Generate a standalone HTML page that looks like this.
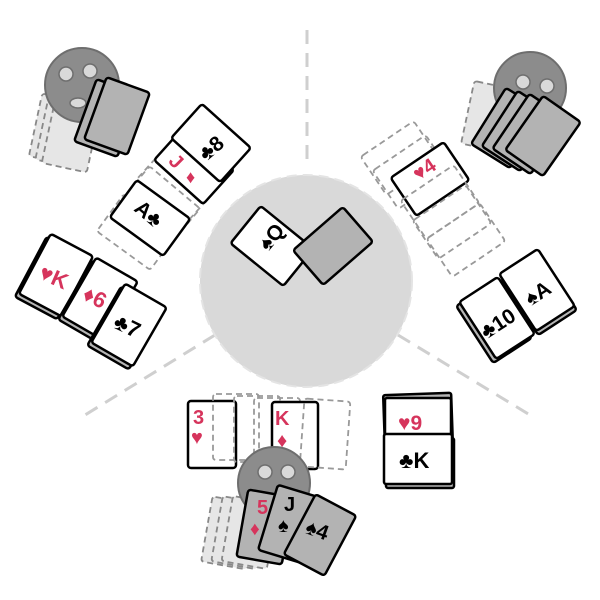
<!DOCTYPE html>
<html><head><meta charset="utf-8"><style>
html,body{margin:0;padding:0;background:#fff}
svg{display:block}
text{font-family:"Liberation Sans","DejaVu Sans",sans-serif;font-weight:bold}
.c{fill:#fff;stroke:#000;stroke-width:2.5}
.s{fill:#b5b5b5;stroke:#000;stroke-width:2.5}
.g{fill:#b3b3b3;stroke:#000;stroke-width:2.5}
.d{fill:none;stroke:#999;stroke-width:1.8;stroke-dasharray:6 4}
.db{fill:#e6e6e6;stroke:#888;stroke-width:1.8;stroke-dasharray:6 4}
.r{fill:#d6345c}
.k{fill:#000}
.face{fill:#8c8c8c;stroke:#6e6e6e;stroke-width:2}
.eye{fill:#d9d9d9;stroke:#6e6e6e;stroke-width:1.5}
</style></head><body>
<svg width="600" height="600" viewBox="0 0 600 600" xmlns="http://www.w3.org/2000/svg">
<g stroke="#cfcfcf" stroke-width="3" stroke-dasharray="14 9" fill="none">
<line x1="307" y1="30" x2="307" y2="165"/>
<line x1="215" y1="335" x2="85" y2="415"/>
<line x1="398" y1="335" x2="530" y2="415"/>
</g>
<circle cx="306" cy="281" r="106" fill="#d9d9d9" stroke="#e4e4e4" stroke-width="2" stroke-dasharray="10 6"/>

<g transform="translate(272,246) rotate(39)"><rect class="c" x="-34" y="-24" width="68" height="48" rx="3"/></g>
<text x="268" y="252" font-size="21" class="k" transform="rotate(-50 268 252)">♠Q</text>
<g transform="translate(333,246) rotate(49)"><rect class="g" x="-23" y="-33" width="46" height="66" rx="3"/></g>

<g transform="rotate(12 60 130)">
<rect class="db" x="35" y="98" width="46" height="64" rx="3"/>
<rect class="db" x="42" y="100" width="46" height="64" rx="3"/>
<rect class="db" x="49" y="102" width="46" height="64" rx="3"/>
</g>
<circle class="face" cx="82" cy="85" r="37"/>
<ellipse class="eye" cx="66" cy="74" rx="7" ry="7"/>
<ellipse class="eye" cx="90" cy="71" rx="7" ry="7"/>
<ellipse class="eye" cx="78" cy="103" rx="8" ry="5"/>
<g transform="translate(107,118) rotate(20)"><rect class="g" x="-23" y="-33" width="46" height="66" rx="3"/></g>
<g transform="translate(117,116) rotate(20)"><rect class="g" x="-23" y="-33" width="46" height="66" rx="3"/></g>

<g transform="translate(137,232) rotate(-54)"><rect class="d" x="-23" y="-33" width="46" height="66" rx="3"/></g>
<g transform="translate(160,205) rotate(-50)"><rect class="d" x="-23" y="-33" width="46" height="66" rx="3"/></g>
<g transform="translate(176,185) rotate(-48)"><rect class="d" x="-23" y="-33" width="46" height="66" rx="3"/></g>
<g transform="translate(150,218) rotate(-54)"><rect class="c" x="-23" y="-33" width="46" height="66" rx="3"/></g>
<text x="133" y="210" font-size="21" class="k" transform="rotate(40 133 210)">A♣</text>
<g transform="translate(194,165) rotate(-48)"><rect class="c" x="-23" y="-33" width="46" height="66" rx="3"/></g>
<text x="170" y="168" font-size="20" class="r" transform="rotate(45 176 162)">J</text>
<text x="186" y="183" font-size="18" class="r">♦</text>
<g transform="translate(211,143) rotate(-48)"><rect class="c" x="-23" y="-33" width="46" height="66" rx="3"/></g>
<text x="198" y="156" font-size="21" class="k" transform="rotate(-40 210 148)">♣8</text>

<g transform="translate(52,278) rotate(28)"><rect class="s" x="-24" y="-34" width="48" height="68" rx="3"/></g>
<g transform="translate(56,275) rotate(28)"><rect class="c" x="-24" y="-34" width="48" height="68" rx="3"/></g>
<text x="39" y="285" font-size="22" class="r" transform="rotate(24 55 278)">♥K</text>
<g transform="translate(96,302) rotate(30)"><rect class="s" x="-24" y="-34" width="48" height="68" rx="3"/></g>
<g transform="translate(100,299) rotate(30)"><rect class="c" x="-24" y="-34" width="48" height="68" rx="3"/></g>
<text x="82" y="306" font-size="22" class="r" transform="rotate(26 97 300)">♦6</text>
<g transform="translate(125,328) rotate(30)"><rect class="s" x="-24" y="-34" width="48" height="68" rx="3"/></g>
<g transform="translate(129,325) rotate(30)"><rect class="c" x="-24" y="-34" width="48" height="68" rx="3"/></g>
<text x="113" y="334" font-size="22" class="k" transform="rotate(26 128 328)">♣7</text>

<g transform="translate(490,118) rotate(12)"><rect class="db" x="-23" y="-33" width="46" height="64" rx="3"/></g>
<circle class="face" cx="530" cy="88" r="36"/>
<ellipse class="eye" cx="523" cy="82" rx="7" ry="7"/>
<ellipse class="eye" cx="547" cy="86" rx="7" ry="7"/>
<g transform="translate(508,128) rotate(32)"><rect class="g" x="-23" y="-33" width="46" height="66" rx="3"/></g>
<g transform="translate(519,131) rotate(33)"><rect class="g" x="-23" y="-33" width="46" height="66" rx="3"/></g>
<g transform="translate(530,134) rotate(34)"><rect class="g" x="-23" y="-33" width="46" height="66" rx="3"/></g>
<g transform="translate(543,136) rotate(35)"><rect class="g" x="-23" y="-33" width="46" height="66" rx="3"/></g>

<g transform="translate(400,158) rotate(-34)"><rect class="d" x="-32" y="-23" width="64" height="46" rx="3"/></g>
<g transform="translate(412,172) rotate(-34)"><rect class="d" x="-32" y="-23" width="64" height="46" rx="3"/></g>
<g transform="translate(430,179) rotate(-34)"><rect class="c" x="-32" y="-23" width="64" height="46" rx="3"/></g>
<text x="412" y="176" font-size="20" class="r" transform="rotate(-34 424 168)">♥4</text>
<g transform="translate(440,202) rotate(-34)"><rect class="d" x="-32" y="-23" width="64" height="46" rx="3"/></g>
<g transform="translate(452,222) rotate(-34)"><rect class="d" x="-32" y="-23" width="64" height="46" rx="3"/></g>
<g transform="translate(466,240) rotate(-34)"><rect class="d" x="-32" y="-23" width="64" height="46" rx="3"/></g>

<g transform="translate(494,322) rotate(-33)"><rect class="s" x="-23" y="-34" width="46" height="68" rx="3"/></g>
<g transform="translate(497,318) rotate(-33)"><rect class="c" x="-23" y="-34" width="46" height="68" rx="3"/></g>
<text x="478" y="332" font-size="21" class="k" transform="rotate(-33 495 322)">♣10</text>
<g transform="translate(539,294) rotate(-33)"><rect class="s" x="-23" y="-34" width="46" height="68" rx="3"/></g>
<g transform="translate(537,290) rotate(-33)"><rect class="c" x="-23" y="-34" width="46" height="68" rx="3"/></g>
<text x="524" y="300" font-size="21" class="k" transform="rotate(-33 538 292)">♠A</text>

<rect class="c" x="188" y="401" width="48" height="67" rx="3"/>
<text x="193" y="424" font-size="20" class="r">3</text>
<text x="191" y="444" font-size="20" class="r">♥</text>
<rect class="d" x="213" y="394" width="46" height="66" rx="3"/>
<rect class="d" x="234" y="396" width="46" height="66" rx="3"/>
<rect class="d" x="254" y="398" width="46" height="66" rx="3"/>
<rect class="c" x="272" y="402" width="46" height="67" rx="3"/>
<text x="275" y="425" font-size="20" class="r">K</text>
<text x="277" y="447" font-size="20" class="r">♦</text>
<g transform="rotate(4 325 435)"><rect class="d" x="302" y="400" width="46" height="68" rx="3"/></g>

<rect class="s" x="384" y="394" width="68" height="50" rx="2" transform="rotate(-2 418 419)"/>
<rect class="c" x="385" y="398" width="66" height="48" rx="2"/>
<text x="398" y="430" font-size="21" class="r">♥9</text>
<rect class="s" x="386" y="438" width="68" height="50" rx="2"/>
<rect class="c" x="384" y="434" width="68" height="50" rx="2"/>
<text x="399" y="468" font-size="22" class="k">♣K</text>

<g transform="rotate(10 230 530)">
<rect class="db" x="207" y="500" width="46" height="66" rx="3"/>
<rect class="db" x="217" y="498" width="46" height="66" rx="3"/>
<rect class="db" x="227" y="496" width="46" height="66" rx="3"/>
</g>
<circle class="face" cx="274" cy="483" r="36"/>
<ellipse class="eye" cx="265" cy="472" rx="7" ry="7"/>
<ellipse class="eye" cx="288" cy="472" rx="7" ry="7"/>
<g transform="translate(265,527) rotate(10)"><rect class="g" x="-23" y="-34" width="46" height="68" rx="3"/></g>
<text x="257" y="514" font-size="20" class="r">5</text>
<text x="250" y="535" font-size="19" class="r">♦</text>
<g transform="translate(290,524) rotate(17)"><rect class="g" x="-23" y="-34" width="46" height="68" rx="3"/></g>
<text x="284" y="511" font-size="20" class="k">J</text>
<text x="278" y="532" font-size="20" class="k">♠</text>
<g transform="translate(320,535) rotate(28)"><rect class="g" x="-23" y="-34" width="46" height="68" rx="3"/></g>
<text x="306" y="538" font-size="21" class="k" transform="rotate(20 320 530)">♠4</text>
</svg>
</body></html>
